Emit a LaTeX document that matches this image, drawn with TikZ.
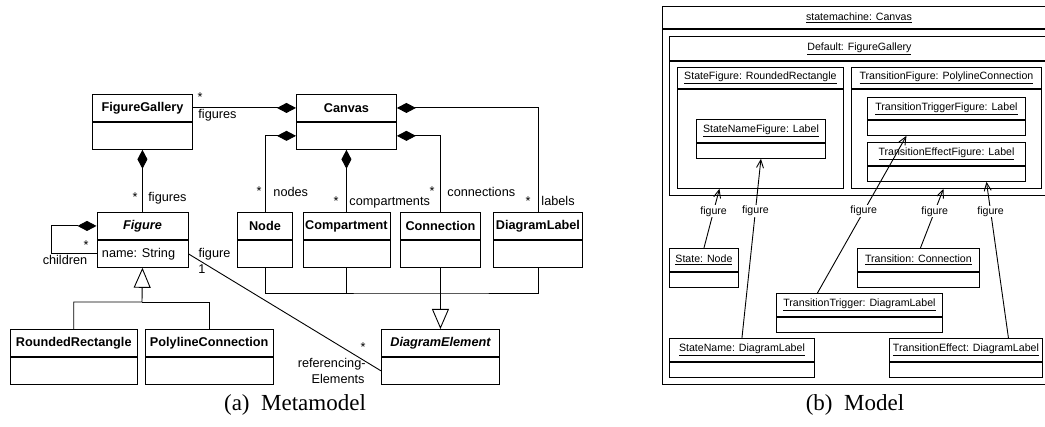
\documentclass[tikz,border=0pt]{standalone}
\usepackage{fontspec}
\setmainfont{Liberation Sans}
\newfontfamily\capfont{Liberation Serif}
\usetikzlibrary{arrows.meta,positioning}

% class box: name, top left, width, title
\newcommand{\umlclass}[4]{%
  \node[clshead, minimum width=#3] (#1) at (#2) {#4};
  \node[clsbody, minimum width=#3] (#1-b) at (#1.south) {};
}
% object box: name, top left, width, head height, body height, title
\newcommand{\umlobj}[6]{%
  \node[objhead, minimum width=#3, minimum height=#4] (#1) at (#2) {\underline{#6}};
  \node[objbody, minimum width=#3, minimum height=#5] (#1-b) at (#1.south) {};
}

\begin{document}
\begin{tikzpicture}[x=1pt, y=-1pt, line width=0.9pt,
    clshead/.style={draw, anchor=north west, minimum height=27pt, inner sep=0pt,
      font=\fontsize{12.7}{15}\selectfont\bfseries},
    clsbody/.style={draw, anchor=north, minimum height=27pt, inner sep=0pt},
    objhead/.style={draw, anchor=north west, inner sep=0pt,
      font=\fontsize{10.6}{12}\selectfont},
    objbody/.style={draw, anchor=north, inner sep=0pt},
    lbl/.style={font=\fontsize{12.7}{15}\selectfont, anchor=base, inner sep=0pt},
    rlbl/.style={font=\fontsize{10.6}{12}\selectfont, fill=white, inner sep=1pt},
    compo/.style={{Diamond[length=19pt,width=10pt]}-},
    inh/.style={-{Triangle[open,length=20pt,width=17pt]}},
    ref/.style={-{Straight Barb[length=8pt,width=7pt]}},
    capt/.style={font=\capfont\fontsize{23}{27}\selectfont, anchor=base}]
  \useasboundingbox (0,0) rectangle (1045,427);

  % (a) metamodel
  \umlclass{fg}{92,94}{100pt}{FigureGallery}
  \umlclass{cv}{296,94}{100pt}{Canvas}
  \umlclass{fig}{96.5,212}{91pt}{\itshape Figure}
  \umlclass{nd}{237,212}{55pt}{Node}
  \umlclass{cmp}{302.5,212}{87pt}{Compartment}
  \umlclass{cn}{400,212}{80pt}{Connection}
  \umlclass{dl}{493,212}{89pt}{DiagramLabel}
  \umlclass{rr}{9.5,329}{127.5pt}{RoundedRectangle}
  \umlclass{pc}{145,329}{127.5pt}{PolylineConnection}
  \umlclass{de}{381,329}{118pt}{\itshape DiagramElement}
  \node[lbl, anchor=west] (fig-a) at ([xshift=5pt]fig-b.west) {name: String};

  \draw[compo] (cv.west) -- (fg.east);
  \draw[compo] (cv-b.west) -| (nd.north);
  \draw[compo] (cv-b.south) -- (cmp.north);
  \draw[compo] (cv-b.east) -| (cn.north);
  \draw[compo] (cv.east) -| (dl.north);
  \draw[compo] (fg-b.south) -- (fig.north);
  \draw[compo] (fig.west) -- ++(-45,0) |- (fig-b.west);
  \draw (fig-b.east) -- (de-b.west);

  \coordinate (gf) at (142,302);
  \draw[inh] (rr.north) |- (gf) -- (fig-b.south);
  \draw (pc.north) |- (gf);
  \coordinate (gd) at (440,293);
  \draw (nd-b.south) |- (gd) -| (dl-b.south);
  \draw (cmp-b.south) -- (cmp-b.south |- gd);
  \draw[inh] (cn-b.south) -- (de.north);

  \node[lbl] (m1) at (200,102) {*};
  \node[lbl, anchor=base west] (r1) at (198,118.5) {figures};
  \node[lbl] (m2) at (135,202) {*};
  \node[lbl, anchor=base west] (r2) at (148,202) {figures};
  \node[lbl] (m3) at (86,250) {*};
  \node[lbl] (r3) at (65,264.5) {children};
  \node[lbl] (r4) at (214.5,257.5) {figure};
  \node[lbl] (m4) at (202,273.5) {1};
  \node[lbl] (m5) at (363,352) {*};
  \node[lbl, anchor=base east] (r5) at (366,367.5) {referencing-};
  \node[lbl, anchor=base east] (r6) at (365,383.5) {Elements};
  \node[lbl] (m6) at (259,196) {*};
  \node[lbl, anchor=base west] (r7) at (273,196.5) {nodes};
  \node[lbl] (m7) at (336,206) {*};
  \node[lbl, anchor=base west] (r8) at (349,206) {compartments};
  \node[lbl] (m8) at (432,196) {*};
  \node[lbl, anchor=base west] (r9) at (447,196.5) {connections};
  \node[lbl] (m9) at (528,206) {*};
  \node[lbl, anchor=base west] (r10) at (541,206) {labels};

  % (b) model
  \umlobj{sm}{662,6}{393pt}{22pt}{355pt}{statemachine: Canvas}
  \umlobj{dflt}{669,36}{380pt}{24pt}{134pt}{Default: FigureGallery}
  \umlobj{sf}{677,67}{166pt}{21pt}{99pt}{StateFigure: RoundedRectangle}
  \umlobj{tf}{851,67}{190pt}{21pt}{99pt}{TransitionFigure: PolylineConnection}
  \umlobj{snf}{696,119}{129pt}{23pt}{15pt}{StateNameFigure: Label}
  \umlobj{ttf}{867,97}{158pt}{22pt}{15pt}{TransitionTriggerFigure: Label}
  \umlobj{tef}{867,142}{158pt}{23pt}{15pt}{TransitionEffectFigure: Label}
  \umlobj{st}{669,248}{69pt}{23pt}{15pt}{State: Node}
  \umlobj{tr}{857,248}{122pt}{23pt}{15pt}{Transition: Connection}
  \umlobj{trg}{776,293}{166pt}{23pt}{15pt}{TransitionTrigger: DiagramLabel}
  \umlobj{sn}{669,338}{145pt}{23pt}{15pt}{StateName: DiagramLabel}
  \umlobj{te}{889,338}{153pt}{23pt}{15pt}{TransitionEffect: DiagramLabel}

  \draw[ref] (st.north) -- node[rlbl, pos=0.62] {figure} ([xshift=-41pt]sf-b.south);
  \draw[ref] (sn.north) -- node[rlbl, pos=0.71] {figure} (snf-b.south);
  \draw[ref] ([xshift=-42pt]trg.north) -- node[rlbl, pos=0.52] {figure} ([xshift=-40pt]ttf-b.south);
  \draw[ref] ([xshift=2pt]tr.north) -- node[rlbl, pos=0.62] {figure} ([xshift=-3pt]tf-b.south);
  \draw[ref] ([xshift=42.5pt]te.north) -- node[rlbl, pos=0.81] {figure} ([xshift=40pt]tef-b.south);

  \node[capt] (capa) at (295,411) {(a)\hspace{0.5em}Metamodel};
  \node[capt] (capb) at (855,411) {(b)\hspace{0.5em}Model};
\end{tikzpicture}
\end{document}
